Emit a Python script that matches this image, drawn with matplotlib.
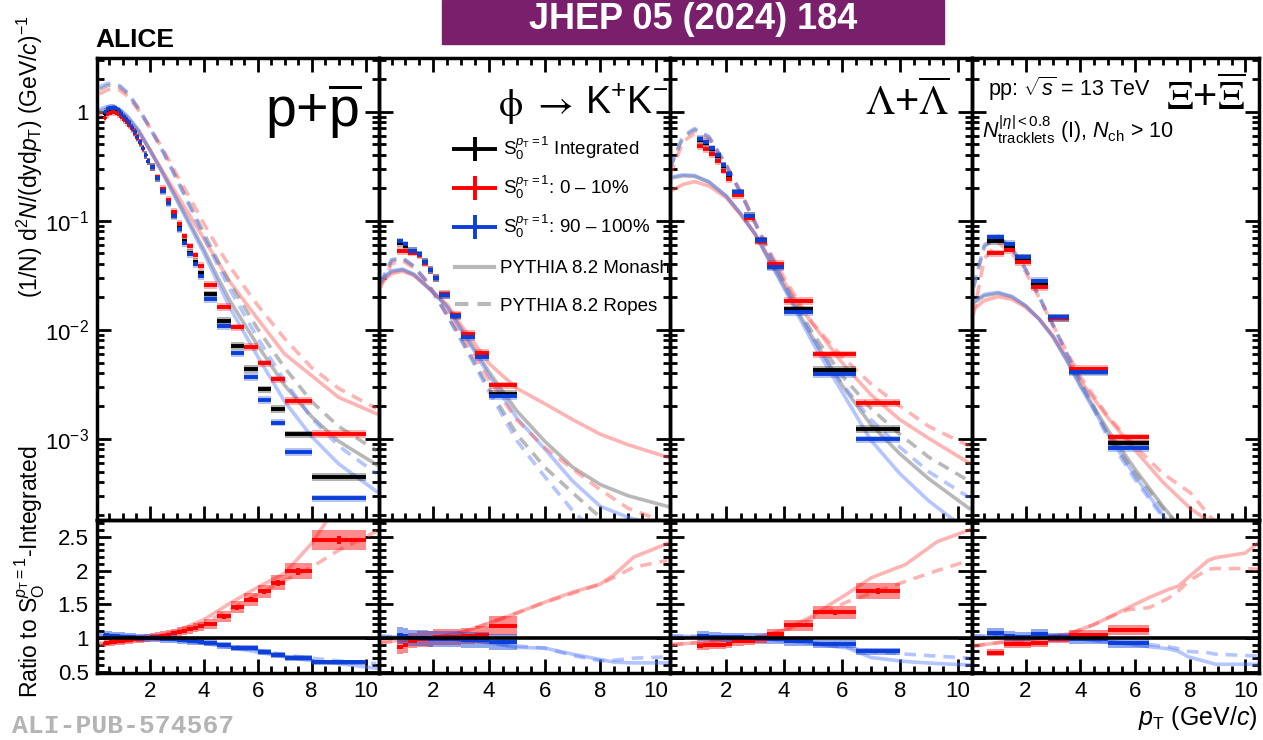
import numpy as np
import matplotlib
matplotlib.use("Agg")
import matplotlib.pyplot as plt
from matplotlib.patches import Rectangle
from matplotlib.ticker import MultipleLocator, LogLocator, NullFormatter
from matplotlib.legend_handler import HandlerErrorbar

plt.rcParams['font.family'] = ['Liberation Sans', 'DejaVu Sans']
plt.rcParams['mathtext.fontset'] = 'custom'
plt.rcParams['mathtext.rm'] = 'Liberation Sans'
plt.rcParams['mathtext.it'] = 'Liberation Sans:italic'
plt.rcParams['mathtext.bf'] = 'Liberation Sans:bold'
plt.rcParams['mathtext.sf'] = 'Liberation Sans'

# ---------------- data: p + pbar ----------------
p_edges = [0.3, 0.4, 0.5, 0.6, 0.7, 0.8, 0.9, 1.0, 1.1, 1.2, 1.3, 1.4, 1.5, 1.6, 1.7, 1.8, 1.9, 2.0,
           2.2, 2.4, 2.6, 2.8, 3.0, 3.2, 3.4, 3.6, 3.8, 4.0, 4.5, 5.0, 5.5, 6.0, 6.5, 7.0, 8.0, 10.0]
p_int = [0.95, 1.02, 1.05, 1.06, 1.04, 1.00, 0.94, 0.88, 0.83, 0.77, 0.71, 0.65, 0.58, 0.52, 0.46, 0.40, 0.35,
         0.31, 0.245, 0.19, 0.148, 0.113, 0.086, 0.065, 0.051, 0.042, 0.033,
         0.0211, 0.0120, 0.00713, 0.00436, 0.00284, 0.00187, 0.00110, 0.000446]
p_hi = [0.87, 0.95, 0.98, 1.00, 0.98, 0.95, 0.90, 0.845, 0.80, 0.747, 0.69, 0.637, 0.571, 0.515, 0.455, 0.398, 0.35,
        0.313, 0.25, 0.197, 0.155, 0.121, 0.094, 0.072, 0.058, 0.048, 0.0386,
        0.0257, 0.01615, 0.01052, 0.00698, 0.00492, 0.00351, 0.00223, 0.00111]
p_lo = [0.99, 1.06, 1.09, 1.09, 1.07, 1.025, 0.96, 0.90, 0.84, 0.78, 0.717, 0.656, 0.583, 0.523, 0.462, 0.40, 0.35,
        0.309, 0.244, 0.188, 0.146, 0.111, 0.0834, 0.0627, 0.049, 0.040, 0.0312,
        0.0192, 0.01074, 0.00607, 0.00371, 0.00228, 0.00141, 0.00076, 0.000284]
p_rhi = [0.92, 0.93, 0.935, 0.94, 0.945, 0.95, 0.955, 0.96, 0.965, 0.97, 0.975, 0.98, 0.985, 0.99, 0.99, 0.995, 1.0,
         1.01, 1.02, 1.035, 1.05, 1.07, 1.09, 1.11, 1.13, 1.15, 1.17,
         1.21, 1.32, 1.455, 1.57, 1.69, 1.82, 1.99, 2.45]
p_rlo = [1.04, 1.04, 1.035, 1.03, 1.03, 1.025, 1.02, 1.02, 1.015, 1.015, 1.01, 1.01, 1.005, 1.005, 1.0, 1.0, 1.0,
         0.998, 0.995, 0.99, 0.985, 0.98, 0.97, 0.965, 0.96, 0.95, 0.945,
         0.93, 0.89, 0.85, 0.85, 0.79, 0.75, 0.70, 0.64]
p_mx = [0.15, 0.4, 0.6, 0.9, 1.2, 1.6, 2.0, 2.5, 3.0, 3.5, 4.0, 4.5, 5.0, 6.0, 7.0, 8.0, 9.0, 10.4]
p_mon_int = [1.0, 1.06, 1.08, 1.02, 0.88, 0.66, 0.45, 0.27, 0.16, 0.094, 0.055, 0.031, 0.018, 0.0072, 0.0031, 0.0016, 0.00095, 0.00058]
p_mon_hi = [0.93, 0.99, 1.01, 0.96, 0.84, 0.64, 0.45, 0.28, 0.175, 0.11, 0.069, 0.043, 0.027, 0.0126, 0.006, 0.0038, 0.0024, 0.0017]
p_mon_lo = [1.05, 1.11, 1.12, 1.05, 0.9, 0.67, 0.45, 0.267, 0.155, 0.089, 0.051, 0.028, 0.0155, 0.0057, 0.0022, 0.00105, 0.00059, 0.00033]
p_rop_int = [1.6, 1.72, 1.76, 1.68, 1.45, 1.05, 0.72, 0.43, 0.245, 0.138, 0.078, 0.044, 0.026, 0.0102, 0.0045, 0.0022, 0.0013, 0.00078]
p_rop_hi = [1.45, 1.57, 1.62, 1.57, 1.38, 1.02, 0.72, 0.45, 0.265, 0.16, 0.095, 0.058, 0.037, 0.0168, 0.0083, 0.0045, 0.0029, 0.0019]
p_rop_lo = [1.68, 1.8, 1.83, 1.73, 1.48, 1.06, 0.72, 0.425, 0.24, 0.132, 0.072, 0.040, 0.0228, 0.0084, 0.0034, 0.00155, 0.00086, 0.00048]
p_rx = [0.15, 1, 2, 3, 4, 5, 6, 7, 8, 9, 10.4]
p_rmon_hi = [0.92, 0.95, 1.0, 1.1, 1.27, 1.52, 1.75, 1.96, 2.4, 3.0, 3.5]
p_rrop_hi = [0.9, 0.94, 1.0, 1.08, 1.22, 1.42, 1.65, 1.85, 2.05, 2.3, 2.58]
p_rmon_lo = [1.05, 1.03, 1.0, 0.97, 0.92, 0.86, 0.79, 0.72, 0.66, 0.62, 0.55]
p_rrop_lo = [1.04, 1.02, 1.0, 0.98, 0.93, 0.88, 0.82, 0.75, 0.70, 0.66, 0.62]

# ---------------- data: phi ----------------
f_edges = [0.7, 0.9, 1.1, 1.4, 1.6, 1.8, 2.0, 2.2, 2.6, 3.0, 3.5, 4.0, 5.0]
f_int = [0.062, 0.059, 0.053, 0.049, 0.042, 0.0355, 0.0298, 0.0210, 0.0136, 0.0089, 0.0058, 0.0026]
f_hi = [0.053, 0.0525, 0.051, 0.048, 0.041, 0.0352, 0.0301, 0.0212, 0.0137, 0.0092, 0.0061, 0.0031]
f_lo = [0.0645, 0.0608, 0.053, 0.049, 0.042, 0.0351, 0.0295, 0.0206, 0.0133, 0.0086, 0.0056, 0.00245]
f_rhi = [0.86, 0.89, 0.96, 0.98, 0.98, 0.99, 1.01, 1.01, 1.01, 1.03, 1.05, 1.18]
f_rlo = [1.04, 1.03, 1.0, 1.0, 1.0, 0.99, 0.99, 0.98, 0.98, 0.97, 0.97, 0.94]
f_mx = [0.1, 0.5, 0.9, 1.3, 1.7, 2.0, 2.5, 3.0, 3.5, 4.0, 5.0, 6.0, 7.0, 8.0, 9.0, 10.4]
f_mon_int = [0.028, 0.034, 0.0355, 0.032, 0.026, 0.022, 0.0163, 0.0102, 0.0065, 0.0041, 0.0018, 0.00095, 0.00055, 0.00038, 0.0003, 0.00024]
f_mon_hi = [0.0266, 0.0326, 0.0344, 0.0314, 0.0257, 0.022, 0.017, 0.011, 0.0074, 0.0049, 0.0029, 0.0021, 0.0015, 0.0011, 0.00088, 0.00068]
f_mon_lo = [0.0286, 0.0347, 0.0359, 0.0323, 0.026, 0.022, 0.0161, 0.0099, 0.0062, 0.0038, 0.00155, 0.00081, 0.00041, 0.00024, 0.00019, 0.00015]
f_rop_int = [0.026, 0.043, 0.045, 0.038, 0.029, 0.022, 0.0135, 0.0082, 0.0049, 0.0029, 0.0011, 0.00055, 0.00032, 0.00019, 0.00012, 0.00008]
f_rop_hi = [0.0242, 0.0404, 0.0428, 0.0369, 0.0287, 0.022, 0.014, 0.00886, 0.00554, 0.00348, 0.00149, 0.00083, 0.00053, 0.00034, 0.00023, 0.00017]
f_rop_lo = [0.0268, 0.0439, 0.0455, 0.0384, 0.029, 0.022, 0.0134, 0.008, 0.00466, 0.0027, 0.00096, 0.00045, 0.00022, 0.000125, 0.00008, 0.000056]
f_rx = [0.1, 1, 2, 3, 4, 5, 6, 7, 8, 8.5, 9.2, 10.4]
f_rmon_hi = [0.94, 0.97, 1.0, 1.08, 1.22, 1.37, 1.53, 1.68, 1.8, 1.94, 2.2, 2.4]
f_rrop_hi = [0.93, 0.96, 1.0, 1.08, 1.22, 1.37, 1.53, 1.66, 1.8, 1.9, 2.05, 2.15]
f_rmon_lo = [1.02, 1.01, 1.0, 0.97, 0.93, 0.86, 0.85, 0.76, 0.68, 0.64, 0.63, 0.63]
f_rrop_lo = [1.03, 1.01, 1.0, 0.97, 0.93, 0.88, 0.85, 0.74, 0.66, 0.67, 0.70, 0.72]

# ---------------- data: Lambda ----------------
l_edges = [1.0, 1.2, 1.4, 1.6, 1.8, 2.0, 2.2, 2.6, 3.0, 3.4, 4.0, 5.0, 6.5, 8.0]
l_int = [0.55, 0.51, 0.45, 0.39, 0.318, 0.263, 0.18, 0.11, 0.066, 0.038, 0.0154, 0.00427, 0.00124]
l_hi = [0.484, 0.455, 0.405, 0.351, 0.288, 0.240, 0.172, 0.106, 0.065, 0.040, 0.0183, 0.00595, 0.00213]
l_lo = [0.566, 0.525, 0.459, 0.398, 0.321, 0.266, 0.182, 0.110, 0.066, 0.0372, 0.0146, 0.0039, 0.00099]
l_rhi = [0.88, 0.89, 0.90, 0.90, 0.90, 0.91, 0.95, 0.96, 0.98, 1.06, 1.19, 1.38, 1.70]
l_rlo = [1.03, 1.03, 1.02, 1.02, 1.01, 1.01, 1.01, 1.0, 1.0, 0.98, 0.95, 0.91, 0.80]
l_mx = [0.05, 0.5, 0.9, 1.4, 2.0, 2.5, 3.0, 3.5, 4.0, 4.5, 5.0, 6.0, 7.0, 8.0, 9.0, 10.4]
l_mon_int = [0.245, 0.258, 0.255, 0.225, 0.168, 0.115, 0.075, 0.043, 0.025, 0.0143, 0.0083, 0.0031, 0.00135, 0.00073, 0.00043, 0.00023]
l_mon_hi = [0.185, 0.215, 0.228, 0.208, 0.162, 0.113, 0.075, 0.045, 0.0275, 0.0168, 0.0112, 0.005, 0.00254, 0.0015, 0.00101, 0.0006]
l_mon_lo = [0.25, 0.263, 0.26, 0.227, 0.168, 0.115, 0.075, 0.042, 0.024, 0.0133, 0.0075, 0.0027, 0.00097, 0.00048, 0.00027, 0.00014]
l_rop_int = [0.30, 0.58, 0.68, 0.58, 0.32, 0.18, 0.095, 0.050, 0.027, 0.0155, 0.0092, 0.0038, 0.0019, 0.0011, 0.00068, 0.00041]
l_rop_hi = [0.26, 0.53, 0.63, 0.56, 0.32, 0.18, 0.095, 0.052, 0.03, 0.018, 0.0113, 0.0057, 0.0032, 0.002, 0.0013, 0.00086]
l_rop_lo = [0.31, 0.6, 0.7, 0.59, 0.32, 0.18, 0.095, 0.049, 0.026, 0.0145, 0.0084, 0.0032, 0.0015, 0.00084, 0.0005, 0.00029]
l_rx = [0.1, 1, 2, 3, 4, 5, 5.6, 6.2, 7, 8.2, 9.3, 10.4]
l_rmon_hi = [0.90, 0.93, 0.97, 1.0, 1.12, 1.33, 1.5, 1.66, 1.89, 2.09, 2.43, 2.6]
l_rrop_hi = [0.9, 0.93, 0.97, 1.0, 1.1, 1.3, 1.42, 1.54, 1.66, 1.84, 2.0, 2.15]
l_rmon_lo = [1.03, 1.02, 1.01, 1.0, 0.96, 0.92, 0.88, 0.85, 0.71, 0.65, 0.62, 0.60]
l_rrop_lo = [1.03, 1.02, 1.01, 1.0, 0.97, 0.93, 0.89, 0.86, 0.8, 0.76, 0.73, 0.70]

# ---------------- data: Xi ----------------
xi_edges = [0.6, 1.2, 1.6, 2.2, 2.8, 3.6, 5.0, 6.5]
xi_int = [0.0655, 0.059, 0.0455, 0.0262, 0.0128, 0.0042, 0.00091]
xi_hi = [0.0502, 0.0534, 0.0415, 0.0245, 0.0127, 0.00435, 0.00103]
xi_lo = [0.0704, 0.0612, 0.0462, 0.0282, 0.0130, 0.00406, 0.00083]
xi_rhi = [0.78, 0.91, 0.91, 0.93, 0.99, 1.04, 1.12]
xi_rlo = [1.07, 1.03, 1.02, 1.06, 1.01, 0.98, 0.92]
xi_mx = [0.1, 0.5, 1.0, 1.5, 2.0, 2.5, 3.0, 3.5, 4.0, 5.0, 6.0, 7.0, 8.0, 9.0, 10.4]
xi_mon_int = [0.0175, 0.0205, 0.0216, 0.0200, 0.0166, 0.0125, 0.0086, 0.0053, 0.0031, 0.0012, 0.00052, 0.00024, 0.00012, 0.00007, 0.00004]
xi_mon_hi = [0.0154, 0.0185, 0.0201, 0.019, 0.0161, 0.0125, 0.0088, 0.0056, 0.0034, 0.00156, 0.00078, 0.0004, 0.00023, 0.000154, 0.000096]
xi_mon_lo = [0.018, 0.0211, 0.022, 0.0202, 0.0166, 0.0125, 0.0086, 0.0052, 0.003, 0.0011, 0.00045, 0.0002, 0.000084, 0.000043, 0.000024]
xi_rop_int = [0.024, 0.058, 0.071, 0.055, 0.036, 0.02, 0.011, 0.0061, 0.0034, 0.0011, 0.00048, 0.00023, 0.00012, 0.00007, 0.00004]
xi_rop_hi = [0.0135, 0.045, 0.063, 0.05, 0.034, 0.0195, 0.011, 0.0063, 0.0037, 0.0016, 0.00085, 0.00048, 0.00032, 0.00016, 0.00008]
xi_rop_lo = [0.025, 0.06, 0.072, 0.056, 0.036, 0.02, 0.011, 0.006, 0.0033, 0.00102, 0.00042, 0.00019, 0.00009, 0.00005, 0.00003]
xi_rx = [0.1, 1, 2, 3, 3.65, 4.5, 5.0, 5.74, 6.5, 7.2, 7.57, 7.93, 8.65, 8.92, 10.0, 10.5]
xi_rmon_hi = [0.88, 0.93, 0.97, 1.02, 1.07, 1.2, 1.3, 1.45, 1.6, 1.72, 1.77, 1.9, 2.15, 2.19, 2.26, 2.42]
xi_rrop_hi = [0.88, 0.93, 0.97, 1.02, 1.07, 1.2, 1.3, 1.42, 1.45, 1.59, 1.7, 1.84, 2.02, 2.03, 2.03, 2.02]
xi_rmon_lo = [1.03, 1.02, 1.01, 1.0, 1.0, 0.96, 0.94, 0.91, 0.87, 0.84, 0.8, 0.72, 0.64, 0.61, 0.61, 0.61]
xi_rrop_lo = [1.03, 1.02, 1.01, 1.0, 1.0, 0.97, 0.95, 0.92, 0.9, 0.87, 0.84, 0.8, 0.78, 0.76, 0.74, 0.73]

# ---------------- style ----------------
RED, BLUE, BLACK = '#ff0000', '#0b3fd8', '#000000'
M_GRAY, M_RED, M_BLUE = '#8a8a8a', '#ff5a5a', '#5b7fff'
DASH = (0, (3.2, 2.2))
W, H = 1263.0, 740.0
xs = [97, 379, 670, 972, 1259]
y_top, y_mid, y_bot = 58, 520, 673

panels = [
    dict(edges=p_edges, spec=(p_int, p_hi, p_lo), rat=(p_rhi, p_rlo), mx=p_mx,
         mon=(p_mon_int, p_mon_hi, p_mon_lo), rop=(p_rop_int, p_rop_hi, p_rop_lo),
         rx=p_rx, rmod=(p_rmon_hi, p_rrop_hi, p_rmon_lo, p_rrop_lo), rsys=0.06),
    dict(edges=f_edges, spec=(f_int, f_hi, f_lo), rat=(f_rhi, f_rlo), mx=f_mx,
         mon=(f_mon_int, f_mon_hi, f_mon_lo), rop=(f_rop_int, f_rop_hi, f_rop_lo),
         rx=f_rx, rmod=(f_rmon_hi, f_rrop_hi, f_rmon_lo, f_rrop_lo), rsys=0.12),
    dict(edges=l_edges, spec=(l_int, l_hi, l_lo), rat=(l_rhi, l_rlo), mx=l_mx,
         mon=(l_mon_int, l_mon_hi, l_mon_lo), rop=(l_rop_int, l_rop_hi, l_rop_lo),
         rx=l_rx, rmod=(l_rmon_hi, l_rrop_hi, l_rmon_lo, l_rrop_lo), rsys=0.07),
    dict(edges=xi_edges, spec=(xi_int, xi_hi, xi_lo), rat=(xi_rhi, xi_rlo), mx=xi_mx,
         mon=(xi_mon_int, xi_mon_hi, xi_mon_lo), rop=(xi_rop_int, xi_rop_hi, xi_rop_lo),
         rx=xi_rx, rmod=(xi_rmon_hi, xi_rrop_hi, xi_rmon_lo, xi_rrop_lo), rsys=0.07),
]


def bins(ax, edges, vals, col, sys, box_alpha):
    e = np.asarray(edges, float)
    v = np.asarray(vals, float)
    c = 0.5 * (e[1:] + e[:-1])
    hw = 0.5 * np.diff(e)
    ax.bar(c, 2 * sys * v, bottom=v * (1 - sys), width=2 * hw, color=col,
           alpha=box_alpha, lw=0, zorder=3)
    return ax.errorbar(c, v, xerr=hw, yerr=0.025 * v, fmt='none', ecolor=col,
                       elinewidth=2.8, capsize=0, zorder=4)


def frame(ax):
    for s in ax.spines.values():
        s.set_linewidth(2.5)
    ax.tick_params(which='both', direction='in', width=2, labelsize=16, pad=6)
    ax.tick_params(which='major', length=10)
    ax.tick_params(which='minor', length=5)
    ax.xaxis.set_major_locator(MultipleLocator(2))
    ax.xaxis.set_minor_locator(MultipleLocator(0.5))
    ax.set_xlim(0.05, 10.5)


fig = plt.figure(figsize=(12.63, 7.40), dpi=100)
tops = []

for i, pn in enumerate(panels):
    left = xs[i] / W
    wid = (xs[i + 1] - xs[i]) / W
    at = fig.add_axes([left, 1 - y_mid / H, wid, (y_mid - y_top) / H])
    ar = fig.add_axes([left, 1 - y_bot / H, wid, (y_bot - y_mid) / H])
    at.patch.set_alpha(0)
    ar.patch.set_alpha(0)
    tops.append(at)

    # spectra
    at.set_yscale('log')
    for v, mc, a in zip(pn['mon'], (M_GRAY, M_RED, M_BLUE), (0.6, 0.45, 0.45)):
        at.plot(pn['mx'], v, color=mc, lw=2.6, alpha=a, zorder=2)
    for v, mc, a in zip(pn['rop'], (M_GRAY, M_RED, M_BLUE), (0.6, 0.45, 0.45)):
        at.plot(pn['mx'], v, color=mc, lw=2.6, alpha=a, ls=DASH, zorder=2)
    handles = []
    for vals, col in zip(pn['spec'], (BLACK, RED, BLUE)):
        handles.append(bins(at, pn['edges'], vals, col, 0.08, 0.3))
    if i == 0:
        leg_handles = handles
    at.set_ylim(1.8e-4, 3.1)
    frame(at)
    at.tick_params(which='both', top=True, right=True, labelbottom=False)
    at.yaxis.set_minor_locator(LogLocator(base=10, subs=np.arange(2, 10)))
    at.yaxis.set_minor_formatter(NullFormatter())
    at.set_yticks([1e-3, 1e-2, 1e-1, 1],
                  labels=[r'$10^{-3}$', r'$10^{-2}$', r'$10^{-1}$', '1'])
    if i > 0:
        at.tick_params(labelleft=False)

    # ratios
    ar.axhline(1.0, color='k', lw=2.6, zorder=5)
    for v, mc, ls in zip(pn['rmod'], (M_RED, M_RED, M_BLUE, M_BLUE), ('-', DASH, '-', DASH)):
        ar.plot(pn['rx'], v, color=mc, lw=2.6, alpha=0.45, ls=ls, zorder=2)
    for vals, col in zip(pn['rat'], (RED, BLUE)):
        bins(ar, pn['edges'], vals, col, pn['rsys'], 0.45)
    ar.set_ylim(0.48, 2.75)
    frame(ar)
    ar.tick_params(which='both', top=False, right=True)
    ar.yaxis.set_minor_locator(MultipleLocator(0.1))
    ar.set_xticks([2, 4, 6, 8, 10], labels=['2', '4', '6', '8', '10'])
    ar.set_yticks([0.5, 1, 1.5, 2, 2.5], labels=['0.5', '1', '1.5', '2', '2.5'])
    if i > 0:
        ar.tick_params(labelleft=False)

# particle labels
tops[0].text(0.935, 0.885, r'p+$\overline{\mathrm{p}}$', transform=tops[0].transAxes,
             ha='right', va='center', fontsize=40)
kk = tops[1].text(0.995, 0.9, r'K$^{+}$K$^{-}$', transform=tops[1].transAxes,
                  ha='right', va='center', fontsize=27)
tops[1].annotate(r'$\mathrm{\phi}\ \rightarrow$', xy=(0, 0.45), xycoords=kk,
                 xytext=(-9, 0), textcoords='offset points', ha='right', va='center',
                 fontsize=28, math_fontfamily='stix')
tops[2].text(0.925, 0.905, r'$\Lambda$+$\overline{\Lambda}$', transform=tops[2].transAxes,
             ha='right', va='center', fontsize=30, math_fontfamily='stix')
tops[3].text(0.955, 0.915, r'$\Xi$+$\overline{\Xi}$', transform=tops[3].transAxes,
             ha='right', va='center', fontsize=30, math_fontfamily='stix')

# legend (placed over the phi panel)
s0 = r'$\mathrm{S}_{0}^{p_{\mathrm{T}}=1}$'
fig.legend(leg_handles,
           [s0 + ' Integrated', s0 + ': 0 \u2013 10%', s0 + ': 90 \u2013 100%'],
           loc='upper left', bbox_to_anchor=(452 / W, 1 - 135 / H), frameon=False,
           fontsize=13.5, handlelength=2.4, handletextpad=0.3, labelspacing=0.62,
           borderpad=0, borderaxespad=0,
           handler_map={type(leg_handles[0]): HandlerErrorbar(xerr_size=1.2, yerr_size=0.65)})
mon_line = plt.Line2D([], [], color=M_GRAY, lw=3, alpha=0.6)
rop_line = plt.Line2D([], [], color=M_GRAY, lw=3, alpha=0.6, ls=DASH)
fig.legend([mon_line, rop_line], ['PYTHIA 8.2 Monash', 'PYTHIA 8.2 Ropes'],
           loc='upper left', bbox_to_anchor=(455 / W, 1 - 260 / H), frameon=False,
           fontsize=13.5, handlelength=2.1, handletextpad=0.3, labelspacing=1.1,
           borderpad=0, borderaxespad=0)

# header texts
fig.patches.append(Rectangle((442 / W, 1 - 44 / H), (944 - 442) / W, 44 / H,
                             transform=fig.transFigure, color='#7a1f6b', zorder=0))
fig.text(693 / W, 1 - 29 / H, 'JHEP 05 (2024) 184', color='white', fontsize=26,
         fontweight='bold', ha='center', va='baseline')
fig.text(95 / W, 1 - 47 / H, 'ALICE', fontsize=19, fontweight='bold', va='baseline')
fig.text(988 / W, 1 - 96 / H, r'pp: $\sqrt{s}$ = 13 TeV', fontsize=15.5, va='baseline')
fig.text(982 / W, 1 - 138 / H, r'$N_{\mathrm{tracklets}}^{|\eta|<0.8}$ (I), $N_{\mathrm{ch}}$ > 10',
         fontsize=15.5, va='baseline')

# axis titles
fig.text(30 / W, 1 - 157 / H, r'(1/N) d$^{2}$$N$/(dyd$p_{\mathrm{T}}$) (GeV/$c$)$^{-1}$',
         rotation=90, ha='center', va='center', fontsize=16.5)
fig.text(30 / W, 1 - 572 / H, r'Ratio to S$_{\mathrm{O}}^{p_{\mathrm{T}}=1}$-Integrated',
         rotation=90, ha='center', va='center', fontsize=16.5)
fig.text(1258 / W, 1 - 718 / H, r'$p_{\mathrm{T}}$ (GeV/$c$)', ha='right', va='center', fontsize=18)
fig.text(12 / W, 1 - 733 / H, 'ALI-PUB-574567', family=['Liberation Mono', 'DejaVu Sans Mono'],
         fontweight='bold', color='#b4b4b4', fontsize=19, va='baseline')

fig.savefig('out.png', dpi=100)
